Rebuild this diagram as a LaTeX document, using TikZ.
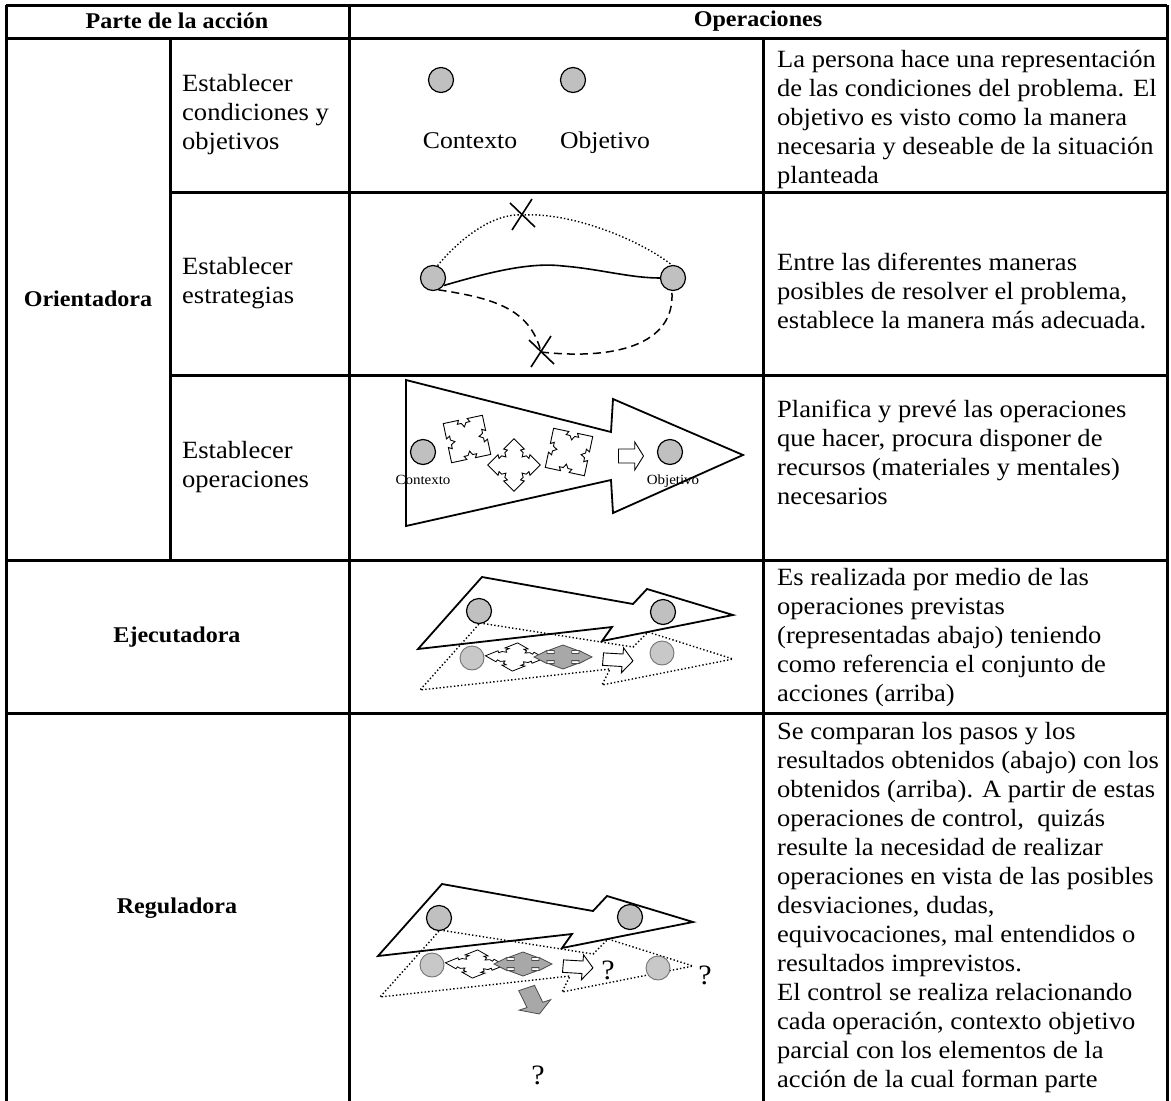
\documentclass[tikz,border=0pt]{standalone}
\usepackage{fontspec}
\setmainfont{Liberation Serif}[FakeStretch=1.07]
\definecolor{dotgray}{RGB}{192,192,192}
\definecolor{lightdot}{RGB}{200,200,200}
\definecolor{arrowgray}{RGB}{168,168,168}
\begin{document}
\begin{tikzpicture}[x=1pt,y=-1pt,
  grid/.style={line width=3pt},
  hdr/.style={font=\fontsize{22.5}{26}\selectfont\bfseries, inner sep=0},
  cell/.style={font=\fontsize{24.8}{29}\selectfont, align=left, inner sep=0},
  desc/.style={cell, anchor=north west},
  lbl/.style={font=\fontsize{24}{28}\selectfont, inner sep=0, anchor=base},
  tiny/.style={font=\fontsize{14}{16}\selectfont, inner sep=0, anchor=base},
  qmark/.style={font=\fontsize{28}{30}\selectfont, inner sep=0},
  dot/.style={circle, draw, line width=1.2pt, fill=dotgray, minimum size=25pt, inner sep=0},
  softdot/.style={circle, draw=black!55, line width=0.9pt, fill=lightdot, minimum size=24pt, inner sep=0},
  outline/.style={draw, line width=1.8pt, line join=miter},
  dotline/.style={line width=1.4pt, dash pattern=on 1.4pt off 2.2pt},
  dashline/.style={line width=1.5pt, dash pattern=on 8pt off 5pt},
  puzzle/.pic={
    \path[pic actions] (-1,-1) -- (-0.22,-1) -- (-0.32,-0.82) -- (-0.12,-0.82) -- (0,-0.62) -- (0.12,-0.82) -- (0.32,-0.82) -- (0.22,-1)
      -- (1,-1) -- (1,-0.22) -- (0.82,-0.32) -- (0.82,-0.12) -- (0.62,0) -- (0.82,0.12) -- (0.82,0.32) -- (1,0.22)
      -- (1,1) -- (0.22,1) -- (0.32,0.82) -- (0.12,0.82) -- (0,0.62) -- (-0.12,0.82) -- (-0.32,0.82) -- (-0.22,1)
      -- (-1,1) -- (-1,0.22) -- (-0.82,0.32) -- (-0.82,0.12) -- (-0.62,0) -- (-0.82,-0.12) -- (-0.82,-0.32) -- (-1,-0.22) -- cycle;
  },
  quadarrow/.pic={
    \path[pic actions] (0.3,-0.3) -- (0.55,-0.3) -- (0.55,-0.55) -- (1,0) -- (0.55,0.55) -- (0.55,0.3) -- (0.3,0.3)
      -- (0.3,0.55) -- (0.5,0.55) -- (0,1) -- (-0.5,0.55) -- (-0.3,0.55) -- (-0.3,0.3)
      -- (-0.55,0.3) -- (-0.55,0.55) -- (-1,0) -- (-0.55,-0.55) -- (-0.55,-0.3) -- (-0.3,-0.3)
      -- (-0.3,-0.55) -- (-0.5,-0.55) -- (0,-1) -- (0.5,-0.55) -- (0.3,-0.55) -- cycle;
  },
  blockarrow/.pic={
    \path[pic actions] (-1,-0.5) -- (0.3,-0.5) -- (0.3,-1) -- (1,0) -- (0.3,1) -- (0.3,0.5) -- (-1,0.5) -- cycle;
  },
  xmark/.pic={
    \draw[line width=1.6pt] (-10,15) -- (10,-16) (-12,-12) -- (13,12);
  }
]
\useasboundingbox (0,0) rectangle (1171,1101);
\fill[white] (0,0) rectangle (1171,1101);

% ---- table rules
\draw[grid] (6,5) -- (1167,5);
\draw[grid] (6,38) -- (1167,38);
\draw[grid] (6,5) -- (6,1101);
\draw[grid] (1167,5) -- (1167,1101);
\draw[grid] (349,5) -- (349,1101);
\draw[grid] (763,38) -- (763,1101);
\draw[grid] (170,38) -- (170,560);
\draw[grid] (170,192) -- (1167,192);
\draw[grid] (170,375) -- (1167,375);
\draw[grid] (6,560) -- (1167,560);
\draw[grid] (6,713) -- (1167,713);

% ---- headers
\node[hdr] (hparte) at (177,21) {Parte de la acción};
\node[hdr] (hoper) at (758,21) {Operaciones};

% ---- left column
\node[hdr] (orient) at (88,299) {Orientadora};
\node[cell, anchor=west] (sub1) at (182,115) {Establecer\\condiciones y\\objetivos};
\node[cell, anchor=west] (sub2) at (182,283) {Establecer\\estrategias};
\node[cell, anchor=west] (sub3) at (182,467) {Establecer\\operaciones};
\node[hdr] (ejec) at (177,637) {Ejecutadora};
\node[hdr] (regul) at (177,908) {Reguladora};

% ---- descriptions
\node[desc] (d1) at (777,50) {La persona hace una representación\\de las condiciones del problema. El\\objetivo es visto como la manera\\necesaria y deseable de la situación\\planteada};
\node[desc] (d2) at (777,253) {Entre las diferentes maneras\\posibles de resolver el problema,\\establece la manera más adecuada.};
\node[desc] (d3) at (777,400) {Planifica y prevé las operaciones\\que hacer, procura disponer de\\recursos (materiales y mentales)\\necesarios};
\node[desc] (d4) at (777,568) {Es realizada por medio de las\\operaciones previstas\\(representadas abajo) teniendo\\como referencia el conjunto de\\acciones (arriba)};
\node[desc] (d5) at (777,722) {Se comparan los pasos y los\\resultados obtenidos (abajo) con los\\obtenidos (arriba). A partir de estas\\operaciones de control,\ \ quizás\\resulte la necesidad de realizar\\operaciones en vista de las posibles\\desviaciones, dudas,\\equivocaciones, mal entendidos o\\resultados imprevistos.\\El control se realiza relacionando\\cada operación, contexto objetivo\\parcial con los elementos de la\\acción de la cual forman parte};

% ---- conditions and goal
\node[dot] (ctx1) at (441,80) {};
\node[dot] (obj1) at (573,80) {};
\node[lbl] (ctx1l) at (470,148) {Contexto};
\node[lbl] (obj1l) at (605,148) {Objetivo};

% ---- strategies
\node[dot] (sL) at (433,278) {};
\node[dot] (sR) at (673,278) {};
\coordinate (x1) at (522,215);
\coordinate (x2) at (541,352);
\draw[dotline] (sL.70) .. controls (462,236) and (495,213) .. (x1) .. controls (572,212) and (640,240) .. (sR.95);
\draw[line width=1.6pt] (sL.-35) .. controls (490,272) and (530,262) .. (563,266) .. controls (600,269) and (630,278) .. (sR.west);
\draw[dashline] (sL.-65) .. controls (492,298) and (530,308) .. (x2);
\draw[dashline] (x2) .. controls (612,360) and (676,346) .. (sR.-95);
\pic at (x1) {xmark};
\pic at (x2) {xmark};

% ---- planned operations
\draw[outline, fill=white] (406,380) -- (611,432) -- (613,399) -- (743,455) -- (613,513) -- (611,480) -- (406,526) -- cycle;
\node[dot] (c3L) at (423,452) {};
\node[dot] (c3R) at (670,452) {};
\node[tiny] (c3Ll) at (423,484) {Contexto};
\node[tiny] (c3Rl) at (673,484) {Objetivo};
\pic[draw, fill=white, line width=0.9pt, scale=20, rotate=12] at (467,439) {puzzle};
\pic[draw, fill=white, line width=0.9pt, scale=18.5, rotate=45] at (514,465) {puzzle};
\pic[draw, fill=white, line width=0.9pt, scale=20, rotate=-12] at (569,452) {puzzle};
\pic[draw, fill=white, line width=0.9pt, xscale=12.5, yscale=14] at (631,456) {blockarrow};

% ---- execution
\begin{scope}
  \draw[outline] (418,649) -- (482,577) -- (633,604) -- (647,589) -- (733,615) -- (602,641) -- (612,627) -- cycle;
  \draw[dotline] (480,623) -- (633,647) -- (648,632) -- (733,659) -- (602,685) -- (610,669) -- (420,690) -- cycle;
  \node[dot] (e1) at (479,611) {};
  \node[dot] (e2) at (663,612) {};
  \node[softdot] (e3) at (472,658) {};
  \node[softdot] (e4) at (662,653) {};
  \pic[draw, fill=white, line width=0.8pt, xscale=21, yscale=10, rotate=40] at (515,657) {puzzle};
  \pic[draw=black!70, fill=arrowgray, line width=0.8pt, xscale=29, yscale=12] at (563,657) {quadarrow};
  \pic[draw, fill=white, line width=0.9pt, xscale=15, yscale=12.5, rotate=-4] at (618,660) {blockarrow};
\end{scope}

% ---- regulation
\begin{scope}[shift={(-40,307)}]
  \draw[outline] (418,649) -- (482,577) -- (633,604) -- (647,589) -- (733,615) -- (602,641) -- (612,627) -- cycle;
  \draw[dotline] (480,623) -- (633,647) -- (648,632) -- (733,659) -- (602,685) -- (610,669) -- (420,690) -- cycle;
  \node[dot] (r1) at (479,611) {};
  \node[dot] (r2) at (670,610) {};
  \node[softdot] (r3) at (472,658) {};
  \node[softdot] (r4) at (698,661) {};
  \pic[draw, fill=white, line width=0.8pt, xscale=21, yscale=10, rotate=40] at (515,657) {puzzle};
  \pic[draw=black!70, fill=arrowgray, line width=0.8pt, xscale=29, yscale=12] at (563,657) {quadarrow};
  \pic[draw, fill=white, line width=0.9pt, xscale=15, yscale=12.5, rotate=-4] at (618,660) {blockarrow};
  \node[qmark] (q1) at (648,663) {?};
  \node[qmark] (q2) at (745,668) {?};
  \pic[draw=black!70, fill=arrowgray, line width=0.8pt, xscale=17, yscale=14, rotate=-68] at (573,694) {blockarrow};
  \node[qmark] (q3) at (578,768) {?};
\end{scope}
\end{tikzpicture}
\end{document}
